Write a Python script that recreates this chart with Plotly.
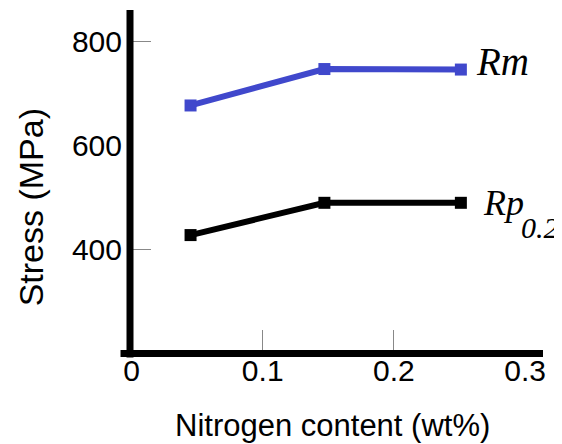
import plotly.graph_objects as go

nitrogen = [0.045, 0.147, 0.251]
rm_values = [677, 747, 746]
rp_values = [428, 490, 490]

x_tickvals = [0, 0.1, 0.2, 0.3]
x_ticktext = ["0", "0.1", "0.2", "0.3"]
y_tickvals = [400, 600, 800]
y_ticktext = ["400", "600", "800"]

BLUE = "#4048CC"
SANS = "Liberation Sans, Arial, sans-serif"
SERIF = "Liberation Serif, Times New Roman, serif"

# figure is placed by the page with an 8px body margin
FIG_W, FIG_H = 554, 436
L, R, T, B = 122.5, 19, 2, 93.5
W = FIG_W - L - R
H = FIG_H - T - B


def px(x):
    return (x - 8 - L) / W


def py(y):
    return 1 - (y - 8 - T) / H


fig = go.Figure()
fig.add_trace(go.Scatter(
    x=nitrogen, y=rm_values, mode="lines+markers",
    line=dict(color=BLUE, width=6),
    marker=dict(symbol="square", size=12, color=BLUE),
    showlegend=False, cliponaxis=False))
fig.add_trace(go.Scatter(
    x=nitrogen, y=rp_values, mode="lines+markers",
    line=dict(color="black", width=6),
    marker=dict(symbol="square", size=12, color="black"),
    showlegend=False, cliponaxis=False))

fig.update_layout(
    width=FIG_W, height=FIG_H,
    margin=dict(l=L, r=R, t=T, b=B, pad=0),
    paper_bgcolor="white", plot_bgcolor="white",
    font=dict(family=SANS, color="black"),
    xaxis=dict(
        range=[-0.00038, 0.31359], showgrid=False, zeroline=False,
        showline=False,
        tickmode="array", tickvals=x_tickvals, ticktext=x_ticktext,
        ticks="", tickfont=dict(size=30, family=SANS, color="black"),
        minor=dict(tickmode="array", tickvals=[0.1, 0.2], ticks="inside",
                   ticklen=20, tickwidth=1, tickcolor="#888888", showgrid=False),
    ),
    yaxis=dict(
        range=[207.2, 860.43], showgrid=False, zeroline=False,
        showline=False, ticklabelstandoff=8,
        tickmode="array", tickvals=y_tickvals, ticktext=y_ticktext,
        ticks="", tickfont=dict(size=30, family=SANS, color="black"),
        minor=dict(tickmode="array", tickvals=[400, 800], ticks="inside",
                   ticklen=20, tickwidth=1, tickcolor="#888888", showgrid=False),
    ),
    shapes=[
        dict(type="line", xref="paper", yref="paper",
             x0=px(129.5), x1=px(129.5), y0=py(10), y1=py(358),
             line=dict(color="black", width=7)),
        dict(type="line", xref="paper", yref="paper",
             x0=px(120), x1=px(543), y0=py(354), y1=py(354),
             line=dict(color="black", width=7)),
    ],
    annotations=[
        dict(text="Stress (MPa)", xref="paper", yref="paper", x=px(30), y=py(208),
             xanchor="center", yanchor="middle", textangle=-90, showarrow=False,
             font=dict(size=34, family=SANS, color="black")),
        dict(text="Nitrogen content (wt%)", xref="paper", yref="paper", x=px(332.5), y=py(426),
             xanchor="center", yanchor="middle", showarrow=False,
             font=dict(size=31, family=SANS, color="black")),
        dict(text="<i>Rm</i>", xref="paper", yref="paper", x=px(474), y=py(62),
             xanchor="left", yanchor="middle", showarrow=False,
             font=dict(size=39, family=SERIF, color="black")),
        dict(text="<i>Rp</i>", xref="paper", yref="paper", x=px(481), y=py(203),
             xanchor="left", yanchor="middle", showarrow=False,
             font=dict(size=36, family=SERIF, color="black")),
        dict(text="<i>0.2</i>", xref="paper", yref="paper", x=px(519), y=py(228),
             xanchor="left", yanchor="middle", showarrow=False,
             font=dict(size=30, family=SERIF, color="black")),
    ],
)

fig.write_html("out.html")
